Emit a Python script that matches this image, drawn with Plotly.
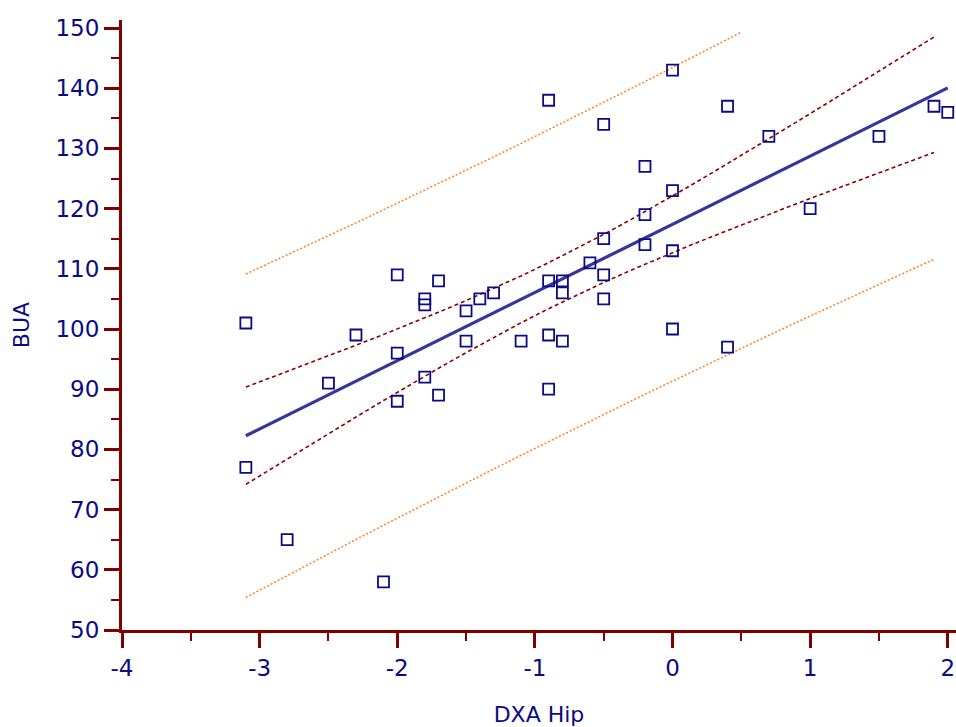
import numpy as np
import plotly.graph_objects as go

# Data
dxa_hip = [-3.1, -3.1, -2.8, -2.5, -2.3, -2.1, -2.0, -2.0, -2.0, -1.8, -1.8, -1.8,
           -1.7, -1.7, -1.5, -1.5, -1.4, -1.3, -1.1, -0.9, -0.9, -0.9, -0.9,
           -0.8, -0.8, -0.8, -0.6, -0.5, -0.5, -0.5, -0.5, -0.2, -0.2, -0.2,
           0.0, 0.0, 0.0, 0.0, 0.4, 0.4, 0.7, 1.0, 1.5, 1.9, 2.0]
bua = [101, 77, 65, 91, 99, 58, 109, 96, 88, 105, 104, 92,
       108, 89, 103, 98, 105, 106, 98, 138, 108, 99, 90,
       108, 106, 98, 111, 134, 115, 109, 105, 127, 119, 114,
       143, 123, 113, 100, 137, 97, 132, 120, 132, 137, 136]

x_ticks = [-4, -3, -2, -1, 0, 1, 2]
y_ticks = [50, 60, 70, 80, 90, 100, 110, 120, 130, 140, 150]

T_CRIT = 2.017  # t(0.975, df=43)

x = np.array(dxa_hip, dtype=float)
y = np.array(bua, dtype=float)
n = len(x)
slope, intercept = np.polyfit(x, y, 1)
resid = y - (intercept + slope * x)
s = np.sqrt(np.sum(resid ** 2) / (n - 2))
xbar = x.mean()
sxx = np.sum((x - xbar) ** 2)

xl = np.array([x.min(), x.max()])
yl = intercept + slope * xl

xb = np.linspace(x.min(), 1.9, 26)
yb = intercept + slope * xb
ci = T_CRIT * s * np.sqrt(1 / n + (xb - xbar) ** 2 / sxx)
pi = T_CRIT * s * np.sqrt(1 + 1 / n + (xb - xbar) ** 2 / sxx)
up_pi = yb + pi
mask = up_pi <= 150

NAVY = "#0b0b85"
AXIS = "#800000"
FONT = "DejaVu Sans"

fig = go.Figure()
fig.add_trace(go.Scatter(x=xb[mask], y=up_pi[mask], mode="lines",
                         line=dict(color="#ff8020", width=1.5, dash="2px,2px"), hoverinfo="skip"))
fig.add_trace(go.Scatter(x=xb, y=yb - pi, mode="lines",
                         line=dict(color="#ff8020", width=1.5, dash="2px,2px"), hoverinfo="skip"))
fig.add_trace(go.Scatter(x=xb, y=yb + ci, mode="lines",
                         line=dict(color="#8b0000", width=1.6, dash="4px,3px"), hoverinfo="skip"))
fig.add_trace(go.Scatter(x=xb, y=yb - ci, mode="lines",
                         line=dict(color="#8b0000", width=1.6, dash="4px,3px"), hoverinfo="skip"))
fig.add_trace(go.Scatter(x=xl, y=yl, mode="lines", cliponaxis=False,
                         line=dict(color="#35359c", width=3.2), hoverinfo="skip"))
fig.add_trace(go.Scatter(x=dxa_hip, y=bua, mode="markers", cliponaxis=False,
                         marker=dict(symbol="square-open", size=11, color=NAVY,
                                     line=dict(width=1.8, color=NAVY))))

axis_common = dict(
    showgrid=False, zeroline=False, showline=True, linecolor=AXIS, linewidth=3,
    ticks="outside", ticklen=15, tickwidth=3, tickcolor=AXIS, automargin=False,
    tickfont=dict(family=FONT, size=23, color=NAVY),
)

fig.update_xaxes(range=[-4, 2.06], tickvals=x_ticks, ticktext=[str(v) for v in x_ticks],
                 minor=dict(ticks="outside", ticklen=8, tickwidth=2, tickcolor=AXIS, dtick=0.5, tick0=0),
                 title=dict(text="DXA Hip", font=dict(family=FONT, size=22, color=NAVY), standoff=29),
                 **axis_common)
fig.update_yaxes(range=[50, 151.33], tickvals=y_ticks, ticktext=[str(v) for v in y_ticks],
                 minor=dict(ticks="outside", ticklen=8, tickwidth=2, tickcolor=AXIS, dtick=5, tick0=0),
                 title=dict(text="BUA", font=dict(family=FONT, size=22, color=NAVY), standoff=20),
                 **axis_common)

fig.update_layout(
    width=956, height=727,
    margin=dict(l=122, r=0, t=20, b=97),
    plot_bgcolor="white", paper_bgcolor="white",
    showlegend=False,
)

# remove the default 8px page margin so the figure fills the window exactly
fig.write_html("out.html", config={"displayModeBar": False},
               post_script="document.body.style.margin='0';document.body.style.overflow='hidden';")
